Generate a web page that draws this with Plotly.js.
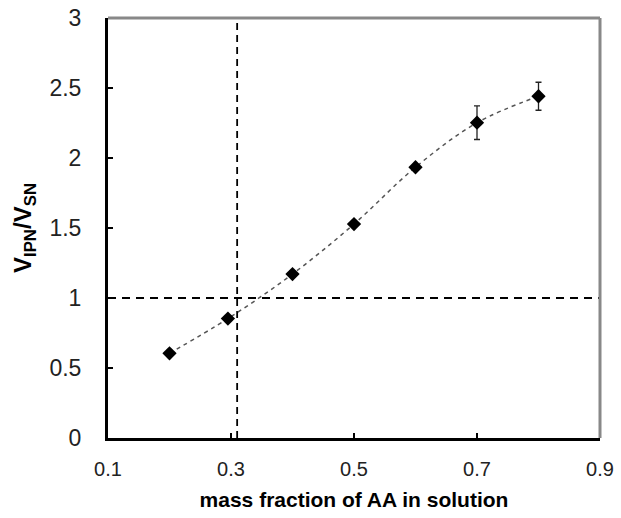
<!DOCTYPE html>
<html>
<head>
<meta charset="utf-8">
<script src="https://cdn.plot.ly/plotly-3.0.1.min.js"></script>
<style>html,body{margin:0;padding:0;background:#fff;}#chart{width:621px;height:518px;}</style>
</head>
<body>
<div id="chart"></div>
<script>
// Data
const massFraction = [0.2, 0.295, 0.4, 0.5, 0.6, 0.7, 0.8];
const volumeRatio = [0.605, 0.853, 1.171, 1.528, 1.934, 2.252, 2.441];
const errorValues = [0.02, 0.02, 0.02, 0.02, 0.02, 0.12, 0.1];
const xTicks = [0.1, 0.3, 0.5, 0.7, 0.9];
const yTicks = [0, 0.5, 1, 1.5, 2, 2.5, 3];
const refX = 0.31;   // vertical guide line
const refY = 1;      // horizontal guide line

const trend = {
  x: massFraction, y: volumeRatio, type: 'scatter', mode: 'lines',
  line: {shape: 'spline', smoothing: 1, color: '#555', width: 1.5, dash: '4px,4px'},
  hoverinfo: 'skip', showlegend: false
};
const points = {
  x: massFraction, y: volumeRatio, type: 'scatter', mode: 'markers',
  marker: {symbol: 'diamond', size: 11, color: '#000'},
  error_y: {type: 'data', array: errorValues, visible: true, color: '#222', thickness: 1.3, width: 3},
  showlegend: false
};
const vLine = {
  x: [refX, refX], y: [yTicks[0], yTicks[yTicks.length-1]], type: 'scatter', mode: 'lines',
  line: {color: '#000', width: 1.8, dash: '7px,5px'}, hoverinfo: 'skip', showlegend: false
};
const hLine = {
  x: [xTicks[0], xTicks[xTicks.length-1]], y: [refY, refY], type: 'scatter', mode: 'lines',
  line: {color: '#000', width: 1.8, dash: '8px,6px'}, hoverinfo: 'skip', showlegend: false
};

const layout = {
  width: 621, height: 518,
  margin: {l: 108, r: 21, t: 18, b: 80},
  paper_bgcolor: '#fff', plot_bgcolor: '#fff',
  font: {family: 'Liberation Sans, Arial, sans-serif', color: '#000'},
  showlegend: false,
  xaxis: {
    range: [0.1, 0.9], tickvals: xTicks, ticktext: xTicks.map(v => v.toFixed(1)),
    showgrid: false, zeroline: false, showline: true, linecolor: '#000', linewidth: 3,
    ticks: 'inside', ticklen: 5, tickwidth: 2, tickcolor: '#000',
    ticklabelstandoff: 11,
    tickfont: {size: 20, family: 'Liberation Sans, Arial, sans-serif', color: '#222'},
    title: {text: '<b>mass fraction of AA in solution</b>', font: {size: 21, family: 'Liberation Sans, Arial, sans-serif'}, standoff: 14}
  },
  yaxis: {
    range: [0, 3], tickvals: yTicks, ticktext: yTicks.map(v => String(v)),
    showgrid: false, zeroline: false, showline: true, linecolor: '#000', linewidth: 3,
    ticks: 'inside', ticklen: 5, tickwidth: 2, tickcolor: '#000',
    ticklabelstandoff: 19,
    tickfont: {size: 23, family: 'Liberation Sans, Arial, sans-serif', color: '#222'},
    title: {text: '<b>V<sub>IPN</sub>/V<sub>SN</sub></b>', font: {size: 24, family: 'Liberation Sans, Arial, sans-serif'}, standoff: 12}
  },
  shapes: [
    {type: 'line', xref: 'paper', yref: 'paper', x0: 0, x1: 1, y0: 1, y1: 1, line: {color: '#888', width: 3}},
    {type: 'line', xref: 'paper', yref: 'paper', x0: 1, x1: 1, y0: 0, y1: 1, line: {color: '#888', width: 3}}
  ]
};

Plotly.newPlot('chart', [vLine, hLine, trend, points], layout, {staticPlot: true, displayModeBar: false});
</script>
</body>
</html>
